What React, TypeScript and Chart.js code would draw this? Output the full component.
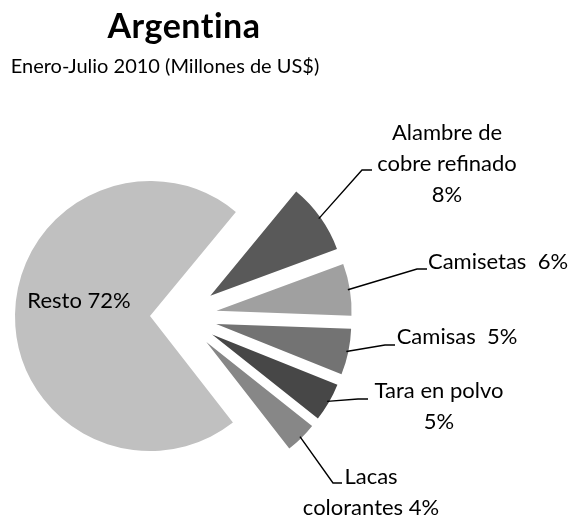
import React, { useEffect, useRef } from 'react';
import { Chart, registerables } from 'chart.js';

Chart.register(...registerables);

// ---- data (shares in %; labels rounded) ----
const categories = ['Resto', 'Alambre de cobre refinado', 'Camisetas', 'Camisas', 'Tara en polvo', 'Lacas colorantes'];
const values = [71.5, 8.4, 6.2, 5.5, 4.6, 3.8];
const labelLines = [
  ['Resto 72%'],
  ['Alambre de', 'cobre refinado', '8%'],
  ['Camisetas  6%'],
  ['Camisas  5%'],
  ['Tara en polvo', '5%'],
  ['Lacas', 'colorantes 4%'],
];
const titleText = 'Argentina';
const subtitleText = 'Enero-Julio 2010 (Millones de US$)';

// ---- styles / layout ----
const colors = ['#c0c0c0', '#595959', '#a0a0a0', '#737373', '#474747', '#878787'];
const explode = [31, 36, 36, 36, 36, 36];
const ROTATION_TWEAK = 0.8;
const FONT = 'Lato, "Open Sans", sans-serif';
const labelCenters = [[79, 301], [447, 133], [498, 262], [457, 337], [439, 391], [371, 477]];
const lineHeight = 31;
const leaderElbows = [null, [362, 170], [417, 269], [385, 345], [358, 399], [333, 483]];
const leaderEnds = [null, [372, 170], [427, 269], [395, 345], [368, 399], [342, 483]];

const explodePlugin = {
  id: 'explodePlugin',
  afterDatasetUpdate(chart: any, args: any) {
    const meta = args.meta;
    meta.data.forEach((arc: any, i: number) => {
      if (arc.__wrapped) return;
      const orig = arc.draw;
      arc.draw = function (ctx: CanvasRenderingContext2D) {
        const mid = (this.startAngle + this.endAngle) / 2;
        const d = explode[i] || 0;
        ctx.save();
        ctx.translate(Math.cos(mid) * d, Math.sin(mid) * d);
        orig.call(this, ctx);
        ctx.restore();
      };
      arc.__wrapped = true;
    });
  },
};

const textPlugin = {
  id: 'textPlugin',
  afterDraw(chart: any) {
    const ctx = chart.ctx as CanvasRenderingContext2D;
    ctx.save();
    ctx.fillStyle = '#000';
    ctx.textAlign = 'center';
    ctx.textBaseline = 'alphabetic';
    (ctx as any).letterSpacing = '0.5px';
    ctx.font = `bold 34px ${FONT}`;
    ctx.fillText(titleText, 184, 38);
    (ctx as any).letterSpacing = '0px';
    ctx.font = `20px ${FONT}`;
    ctx.fillText(subtitleText, 165, 73);

    ctx.textBaseline = 'middle';
    const meta = chart.getDatasetMeta(0);
    meta.data.forEach((arc: any, i: number) => {
      const p = arc.getProps(['x', 'y', 'startAngle', 'endAngle', 'outerRadius'], true);
      const mid = (p.startAngle + p.endAngle) / 2;
      const el = leaderElbows[i];
      const en = leaderEnds[i];
      if (el && en) {
        const dist = explode[i] + p.outerRadius - 2;
        const sx = p.x + Math.cos(mid) * dist;
        const sy = p.y + Math.sin(mid) * dist;
        ctx.beginPath();
        ctx.strokeStyle = '#000';
        ctx.lineWidth = 1.4;
        ctx.moveTo(sx, sy);
        ctx.lineTo(el[0], el[1]);
        ctx.lineTo(en[0], en[1]);
        ctx.stroke();
      }
      ctx.font = `22px ${FONT}`;
      ctx.fillStyle = '#000';
      const [cx, cy] = labelCenters[i];
      labelLines[i].forEach((line, k) => {
        ctx.fillText(line, cx, cy + k * lineHeight);
      });
    });
    ctx.restore();
  },
};

export default function App() {
  const ref = useRef<HTMLCanvasElement>(null);
  useEffect(() => {
    const canvas = ref.current;
    if (!canvas) return;
    const total = values.reduce((a, b) => a + b, 0);
    const rotation = 90 + ((total - values[0]) / total) * 180 + ROTATION_TWEAK;
    const chart = new Chart(canvas, {
      type: 'pie',
      data: {
        labels: categories,
        datasets: [
          {
            data: values,
            backgroundColor: colors,
            borderWidth: 0,
            offset: 0,
          } as any,
        ],
      },
      options: {
        animation: false,
        responsive: false,
        devicePixelRatio: 1,
        rotation,
        radius: 135,
        layout: { padding: { left: 40, right: 252, top: 168, bottom: 51 } },
        plugins: {
          legend: { display: false },
          tooltip: { enabled: false },
          title: { display: false },
        },
      } as any,
      plugins: [explodePlugin, textPlugin],
    });
    return () => chart.destroy();
  }, []);
  return (
    <div style={{ position: 'fixed', left: 0, top: 0, width: 574, height: 516, background: '#fff' }}>
      <canvas ref={ref} width={574} height={516} style={{ width: 574, height: 516, display: 'block' }} />
    </div>
  );
}
